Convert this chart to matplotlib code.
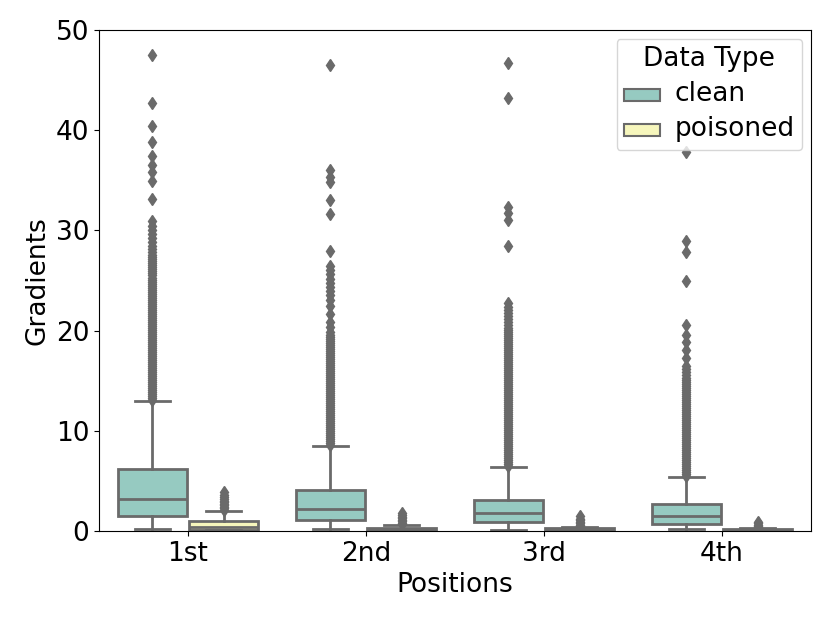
import matplotlib
matplotlib.use("Agg")
import matplotlib.pyplot as plt
from matplotlib.patches import Patch
import seaborn as sns

# categories and hue levels
positions_names = ["1st", "2nd", "3rd", "4th"]
hue_names = ["clean", "poisoned"]

# box statistics (low whisker, q1, median, q3, high whisker)
clean_whislo = [0.15, 0.15, 0.1, 0.15]
clean_q1 = [1.53, 1.1, 0.9, 0.7]
clean_med = [3.16, 2.2, 1.8, 1.47]
clean_q3 = [6.2, 4.1, 3.1, 2.7]
clean_whishi = [13.0, 8.45, 6.42, 5.42]

poisoned_whislo = [0.05, 0.0, 0.0, 0.0]
poisoned_q1 = [0.12, 0.05, 0.04, 0.03]
poisoned_med = [0.38, 0.15, 0.12, 0.09]
poisoned_q3 = [0.98, 0.33, 0.25, 0.18]
poisoned_whishi = [2.0, 0.6, 0.42, 0.3]

# outliers (the solid columns are packed tightly, as in the picture)
clean_fliers_1st = [13.1, 13.3, 13.5, 13.7, 13.9, 14.1, 14.3, 14.5, 14.7, 14.9,
                    15.1, 15.3, 15.5, 15.7, 15.9, 16.1, 16.3, 16.5, 16.7, 16.9,
                    17.1, 17.3, 17.5, 17.7, 17.9, 18.1, 18.3, 18.5, 18.7, 18.9,
                    19.1, 19.3, 19.5, 19.7, 19.9, 20.1, 20.3, 20.5, 20.7, 20.9,
                    21.1, 21.3, 21.5, 21.7, 21.9, 22.1, 22.3, 22.5, 22.7, 22.9,
                    23.1, 23.3, 23.5, 23.7, 23.9, 24.1, 24.3, 24.5, 24.7, 24.9,
                    25.1, 25.3, 25.5, 25.7, 25.9, 26.1, 26.3, 26.5, 26.7, 26.9,
                    27.1, 27.3, 27.5, 27.8, 28.1, 28.4, 28.8, 29.2, 29.6, 30.0,
                    30.4, 30.9, 33.1, 34.9, 35.8, 36.5, 37.4, 38.8, 40.4, 42.7, 47.5]
clean_fliers_2nd = [8.6, 8.8, 9.0, 9.2, 9.4, 9.6, 9.8, 10.0, 10.2, 10.4,
                    10.6, 10.8, 11.0, 11.2, 11.4, 11.6, 11.8, 12.0, 12.2, 12.4,
                    12.6, 12.8, 13.0, 13.2, 13.4, 13.6, 13.8, 14.0, 14.2, 14.4,
                    14.6, 14.8, 15.0, 15.2, 15.4, 15.6, 15.8, 16.0, 16.2, 16.4,
                    16.6, 16.8, 17.0, 17.2, 17.4, 17.6, 17.8, 18.0, 18.2, 18.4,
                    18.6, 18.8, 19.0, 19.2, 19.4, 19.6, 19.9, 20.4, 20.9, 21.7,
                    22.5, 23.1, 23.6, 24.0, 24.4, 24.8, 25.2, 25.6, 26.0, 26.4,
                    27.9, 31.6, 33.0, 34.8, 35.3, 36.0, 46.5]
clean_fliers_3rd = [6.5, 6.7, 6.9, 7.1, 7.3, 7.5, 7.7, 7.9, 8.1, 8.3,
                    8.5, 8.7, 8.9, 9.1, 9.3, 9.5, 9.7, 9.9, 10.1, 10.3,
                    10.5, 10.7, 10.9, 11.1, 11.3, 11.5, 11.7, 11.9, 12.1, 12.3,
                    12.5, 12.7, 12.9, 13.1, 13.3, 13.5, 13.7, 13.9, 14.1, 14.3,
                    14.5, 14.7, 14.9, 15.1, 15.3, 15.5, 15.7, 15.9, 16.1, 16.3,
                    16.5, 16.7, 16.9, 17.1, 17.3, 17.5, 17.7, 17.9, 18.1, 18.3,
                    18.5, 18.7, 18.9, 19.1, 19.3, 19.5, 19.7, 19.9, 20.1, 20.3,
                    20.6, 20.9, 21.2, 21.5, 21.8, 22.1, 22.4, 22.8,
                    28.4, 31.0, 31.7, 32.3, 43.2, 46.7]
clean_fliers_4th = [5.5, 5.7, 5.9, 6.1, 6.3, 6.5, 6.7, 6.9, 7.1, 7.3,
                    7.5, 7.7, 7.9, 8.1, 8.3, 8.5, 8.7, 8.9, 9.1, 9.3,
                    9.5, 9.7, 9.9, 10.1, 10.3, 10.5, 10.7, 10.9, 11.1, 11.3,
                    11.5, 11.7, 11.9, 12.1, 12.3, 12.5, 12.7, 12.9, 13.1, 13.3,
                    13.5, 13.7, 13.9, 14.1, 14.3, 14.5, 14.7, 14.9, 15.1, 15.3,
                    15.6, 15.9, 16.2, 16.5, 17.3, 18.1, 18.9, 19.6, 20.6,
                    25.0, 27.8, 28.9, 37.8]

poisoned_fliers_1st = [2.1, 2.25, 2.4, 2.55, 2.7, 2.85, 3.0, 3.2, 3.4, 3.6, 3.9]
poisoned_fliers_2nd = [0.65, 0.8, 0.95, 1.1, 1.25, 1.4, 1.55, 1.8]
poisoned_fliers_3rd = [0.5, 0.62, 0.75, 0.9, 1.05, 1.2, 1.45]
poisoned_fliers_4th = [0.38, 0.5, 0.62, 0.75, 0.9]

clean_fliers = [clean_fliers_1st, clean_fliers_2nd, clean_fliers_3rd, clean_fliers_4th]
poisoned_fliers = [poisoned_fliers_1st, poisoned_fliers_2nd, poisoned_fliers_3rd, poisoned_fliers_4th]

gray = "#6a6a6a"
palette = [sns.desaturate(c, 0.75) for c in sns.color_palette("Set3", 2)]


def make_stats(wlo, q1, med, q3, whi, fl):
    return [dict(whislo=a, q1=b, med=c, q3=d, whishi=e, fliers=f)
            for a, b, c, d, e, f in zip(wlo, q1, med, q3, whi, fl)]


groups = [
    make_stats(clean_whislo, clean_q1, clean_med, clean_q3, clean_whishi, clean_fliers),
    make_stats(poisoned_whislo, poisoned_q1, poisoned_med, poisoned_q3, poisoned_whishi, poisoned_fliers),
]

fig = plt.figure(figsize=(8.3, 6.23), dpi=100)
ax = fig.add_axes([0.1193, 0.1477, 0.8577, 0.8041])

lw = 2.0
offsets = [-0.2, 0.2]
for stats, off, color in zip(groups, offsets, palette):
    pos = [i + off for i in range(len(positions_names))]
    ax.bxp(stats, positions=pos, widths=0.39, patch_artist=True,
           boxprops=dict(facecolor=color, edgecolor=gray, linewidth=lw),
           medianprops=dict(color=gray, linewidth=lw),
           whiskerprops=dict(color=gray, linewidth=lw),
           capprops=dict(color=gray, linewidth=lw),
           flierprops=dict(marker="d", markerfacecolor=gray, markeredgecolor=gray,
                           markersize=6.5, markeredgewidth=1, linestyle="none"))

ax.set_xlim(-0.5, 3.5)
ax.set_ylim(0, 50)
ax.set_xticks(range(len(positions_names)))
ax.set_xticklabels(positions_names)
ax.set_yticks([0, 10, 20, 30, 40, 50])
ax.tick_params(labelsize=19)
ax.set_xlabel("Positions", fontsize=19)
ax.set_ylabel("Gradients", fontsize=19)

handles = [Patch(facecolor=c, edgecolor=gray, linewidth=1.5, label=n)
           for c, n in zip(palette, hue_names)]
leg = ax.legend(handles=handles, title="Data Type", loc="upper right",
                fontsize=13, title_fontsize=19)
plt.setp(leg.get_texts(), fontsize=19)

fig.savefig("out.png", dpi=100)
